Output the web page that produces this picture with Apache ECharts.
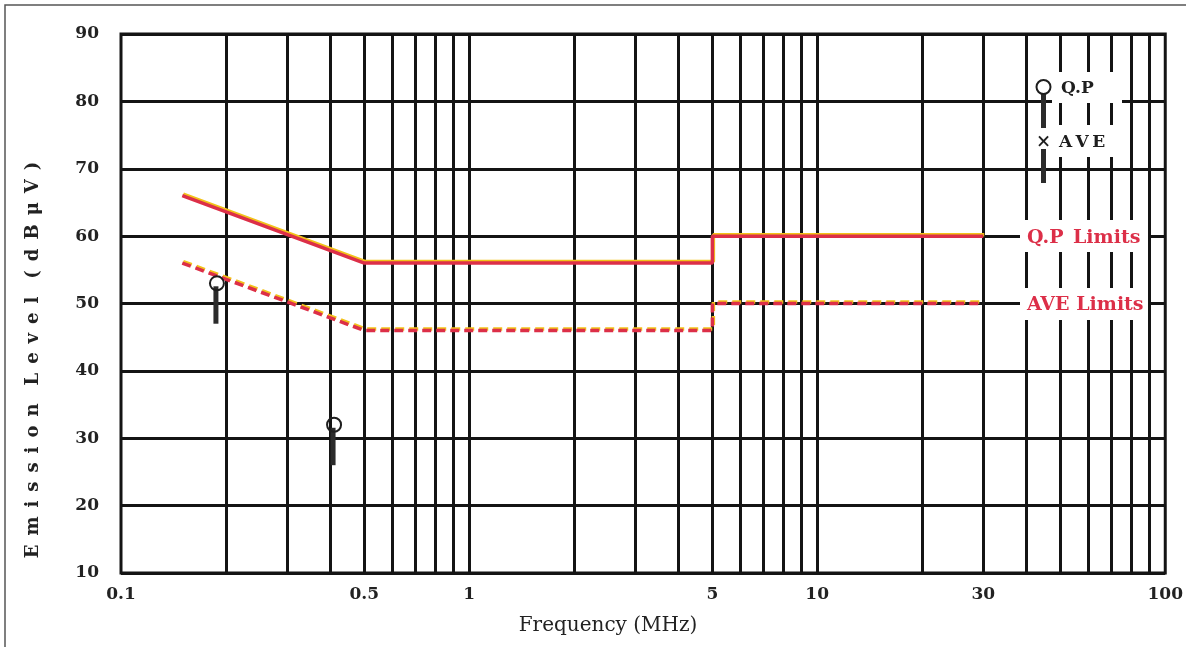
<!DOCTYPE html>
<html><head><meta charset="utf-8">
<script src="https://cdn.jsdelivr.net/npm/echarts@6/dist/echarts.min.js"></script>
<style>html,body{margin:0;padding:0;background:#fff}#c{width:1186px;height:647px}</style>
</head><body><div id="c"></div>
<script>
// ---- data ----
const xTickValues = [0.1, 0.5, 1, 5, 10, 30, 100];
const yTickMin = 10, yTickMax = 90, yTickStep = 10;
const gridFreqs = [0.2,0.3,0.4,0.5,0.6,0.7,0.8,0.9,1,2,3,4,5,6,7,8,9,10,20,30,40,50,60,70,80,90];
const qpLimitLine = [[0.15,66],[0.5,56],[5,56],[5,60],[30,60]];
const aveLimitLine = [[0.15,56],[0.5,46],[5,46],[5,50],[30,50]];
const qpMarkFreq = [0.188, 0.408];
const qpMarkLevel = [53, 32];
const stickLowLevel = [47, 26];

const FONT = 'DejaVu Serif';
const GRID = '#141414';
const RED = '#dc2f48';
const YEL = '#f2c21a';
const SP = '\u2002';

const markerData = qpMarkFreq.map((f, i) => [f, qpMarkLevel[i], stickLowLevel[i]]);
const yName = 'Emission Level (dBμV)'.split(' ').map(w => w.split('').join(SP)).join(SP + SP);

const chart = echarts.init(document.getElementById('c'), null, {renderer: 'canvas'});
chart.setOption({
  animation: false,
  backgroundColor: '#fff',
  grid: {left: 121, right: 19, top: 34, bottom: 74, show: true, borderColor: GRID, borderWidth: 3, backgroundColor: 'transparent'},
  xAxis: {
    type: 'log', logBase: 10, min: 0.1, max: 100,
    axisLine: {show: false}, axisTick: {show: false}, splitLine: {show: false},
    axisLabel: {customValues: xTickValues, fontFamily: FONT, fontWeight: 'bold', fontSize: 17, color: '#222', margin: 13,
      formatter: v => String(v)}
  },
  yAxis: {
    type: 'value', min: yTickMin, max: yTickMax, interval: yTickStep,
    axisLine: {show: false}, axisTick: {show: false},
    splitLine: {lineStyle: {color: GRID, width: 3}},
    axisLabel: {fontFamily: FONT, fontWeight: 'bold', fontSize: 17, color: '#222', margin: 22}
  },
  series: [
    {
      type: 'line', data: [], z: 1, silent: true,
      markLine: {
        silent: true, symbol: 'none', animation: false, z: 1,
        label: {show: false},
        lineStyle: {color: GRID, width: 3, type: 'solid'},
        data: gridFreqs.map(f => ({xAxis: f}))
      }
    },
    {
      type: 'line', data: qpLimitLine, showSymbol: false, z: 6, silent: true,
      lineStyle: {color: RED, width: 3.5, shadowColor: YEL, shadowBlur: 0, shadowOffsetY: -1.5, shadowOffsetX: 1}
    },
    {
      type: 'line', data: aveLimitLine, showSymbol: false, z: 6, silent: true,
      lineStyle: {color: RED, width: 3.5, type: [9, 5], shadowColor: YEL, shadowBlur: 0, shadowOffsetY: -1.5, shadowOffsetX: 1}
    },
    {
      type: 'custom', data: markerData, z: 7, silent: true,
      encode: {x: 0, y: [1, 2]},
      renderItem: (params, api) => {
        const p = api.coord([api.value(0), api.value(1)]);
        const q = api.coord([api.value(0), api.value(2)]);
        return {type: 'group', children: [
          {type: 'rect', shape: {x: p[0] - 3, y: p[1] + 3, width: 5, height: q[1] - p[1] - 3}, style: {fill: '#2b2b2b'}},
          {type: 'circle', shape: {cx: p[0] + 0.5, cy: p[1], r: 7}, style: {fill: 'none', stroke: '#1e1e1e', lineWidth: 2}}
        ]};
      }
    }
  ],
  graphic: [
    {type: 'rect', shape: {x: 5, y: 5, width: 1300, height: 800}, style: {fill: 'none', stroke: '#555', lineWidth: 1.5}, z: 20, silent: true},
    {type: 'text', x: 33, y: 360, rotation: Math.PI / 2, z: 20,
      style: {text: yName, fontFamily: FONT, fontWeight: 'bold', fontSize: 18, fill: '#222', align: 'center', verticalAlign: 'middle'}},
    {type: 'text', x: 608, y: 626, z: 20,
      style: {text: 'Frequency (MHz)', fontFamily: FONT, fontSize: 20, fill: '#222', align: 'center', verticalAlign: 'middle'}},
    // white boxes behind legend & limit labels
    {type: 'rect', shape: {x: 1052, y: 72, width: 70, height: 31}, style: {fill: '#fff'}, z: 30, silent: true},
    {type: 'rect', shape: {x: 1052, y: 125, width: 70, height: 32}, style: {fill: '#fff'}, z: 30, silent: true},
    {type: 'rect', shape: {x: 1020, y: 220, width: 128, height: 32}, style: {fill: '#fff'}, z: 30, silent: true},
    {type: 'rect', shape: {x: 1020, y: 288, width: 128, height: 32}, style: {fill: '#fff'}, z: 30, silent: true},
    // legend glyphs
    {type: 'rect', shape: {x: 1041, y: 94, width: 5, height: 34}, style: {fill: '#2b2b2b'}, z: 31, silent: true},
    {type: 'circle', shape: {cx: 1043.5, cy: 87, r: 7}, style: {fill: '#fff', stroke: '#1e1e1e', lineWidth: 2}, z: 32, silent: true},
    {type: 'rect', shape: {x: 1041, y: 149, width: 5, height: 34}, style: {fill: '#2b2b2b'}, z: 31, silent: true},
    {type: 'text', x: 1043.5, y: 142, z: 32, style: {text: '×', fontFamily: FONT, fontWeight: 'bold', fontSize: 18, fill: '#1e1e1e', align: 'center', verticalAlign: 'middle'}},
    {type: 'text', x: 1061, y: 89, z: 32, style: {text: 'Q.P', fontFamily: FONT, fontWeight: 'bold', fontSize: 17, fill: '#1e1e1e', align: 'left', verticalAlign: 'middle'}},
    {type: 'text', x: 1059, y: 143, z: 32, style: {text: 'A\u2009V\u2009E', fontFamily: FONT, fontWeight: 'bold', fontSize: 17, fill: '#1e1e1e', align: 'left', verticalAlign: 'middle'}},
    // limit labels
    {type: 'text', x: 1027, y: 238, z: 32, style: {text: 'Q.P\u2002Limits', fontFamily: FONT, fontWeight: 'bold', fontSize: 19, fill: RED, align: 'left', verticalAlign: 'middle', shadowColor: YEL, shadowOffsetX: 0.8, shadowOffsetY: -0.8, shadowBlur: 0}},
    {type: 'text', x: 1027, y: 305, z: 32, style: {text: 'AVE Limits', fontFamily: FONT, fontWeight: 'bold', fontSize: 19, fill: RED, align: 'left', verticalAlign: 'middle', shadowColor: YEL, shadowOffsetX: 0.8, shadowOffsetY: -0.8, shadowBlur: 0}}
  ]
});
</script></body></html>
